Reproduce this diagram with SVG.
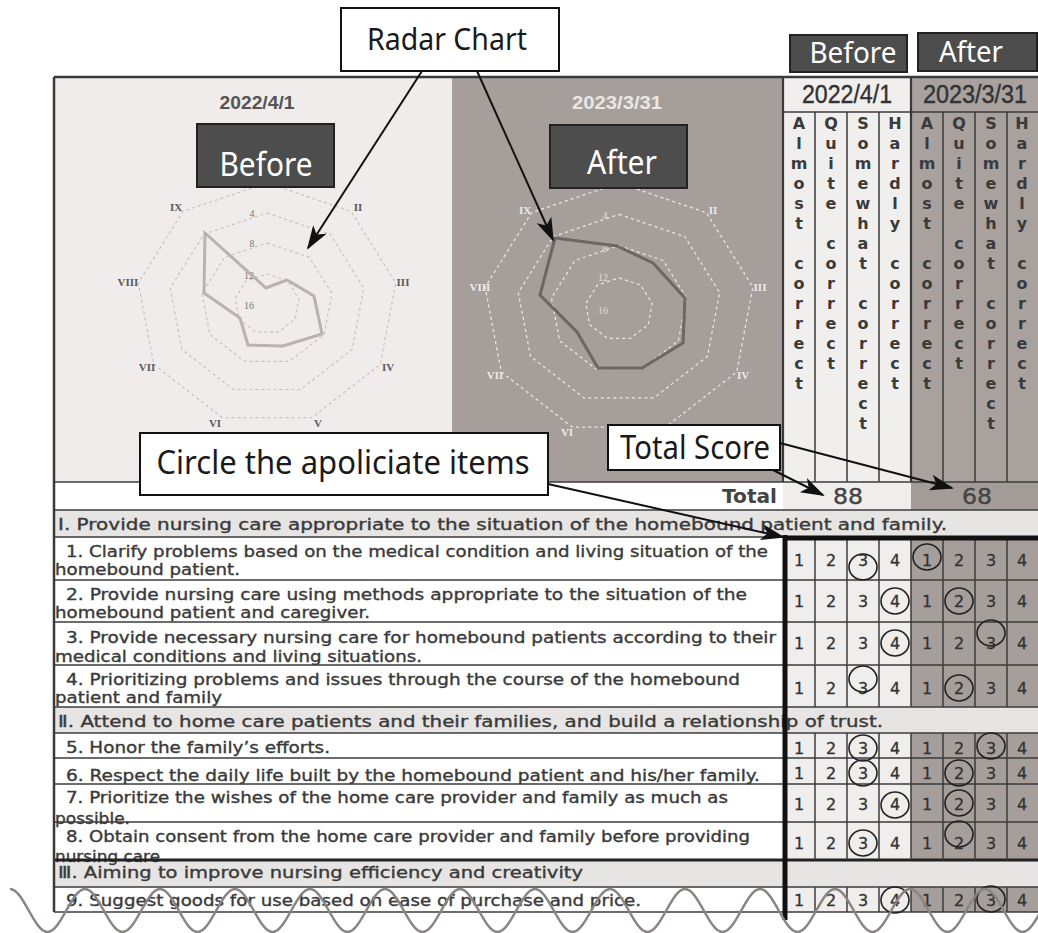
<svg xmlns="http://www.w3.org/2000/svg" width="1038" height="933" viewBox="0 0 1038 933">
<defs>
<style>
.call{font-family:"Noto Sans","Open Sans",sans-serif;fill:#1a1a1a}
.wlab{font-family:"Noto Sans","Open Sans",sans-serif;fill:#ffffff}
.box{fill:#ffffff;stroke:#111;stroke-width:2}
.dbox{fill:#4d4d4d;stroke:#222;stroke-width:2}
.tx{font-family:"DejaVu Sans","Noto Sans CJK JP",sans-serif;font-size:15px;fill:#3a3a3a;stroke:#3a3a3a;stroke-width:0.35}
.num{font-family:"DejaVu Sans",sans-serif;font-size:16px;fill:#333;text-anchor:middle;stroke:#333;stroke-width:0.3}
.vert{font-family:"DejaVu Sans",sans-serif;font-size:16px;font-weight:bold;fill:#3a3a3a;text-anchor:middle}
.rl{font-family:"Liberation Serif",serif;font-size:11px;font-weight:bold;text-anchor:middle}
.sl{font-family:"Liberation Serif",serif;font-size:10px;text-anchor:middle}
.ln{stroke:#3c3c3c;stroke-width:1.5;fill:none}
.circ{fill:none;stroke:#222;stroke-width:1.6}
.conn{stroke:#111;stroke-width:2;fill:none;marker-end:url(#ah)}
</style>
<marker id="ah" viewBox="-24 -9 26 18" refX="0" refY="0" markerWidth="26" markerHeight="18" markerUnits="userSpaceOnUse" orient="auto">
<path d="M2,0 L-22,-8 L-16,0 L-22,8 Z" fill="#111"/>
</marker>
<g id="rings" fill="none">
<polygon points="0,-121 84,-92.7 128.7,-21 113.2,60.5 44.7,113.7 -44.7,113.7 -113.2,60.5 -128.7,-21 -84,-92.7"/>
<polygon points="0,-91 63.2,-69.7 96.8,-15.8 85.1,45.5 33.6,85.5 -33.6,85.5 -85.1,45.5 -96.8,-15.8 -63.2,-69.7"/>
<polygon points="0,-61 42.4,-46.7 64.9,-10.6 57.1,30.5 22.5,57.3 -22.5,57.3 -57.1,30.5 -64.9,-10.6 -42.4,-46.7"/>
<polygon points="0,-30 20.8,-23 31.9,-5.2 28.1,15 11.1,28.2 -11.1,28.2 -28.1,15 -31.9,-5.2 -20.8,-23"/>
</g>
</defs>
<rect x="0" y="0" width="1038" height="933" fill="#ffffff"/>

<g id="radar-before">
<rect x="54" y="78" width="398" height="404" fill="#efeceb"/>
<use href="#rings" transform="translate(267,304)" stroke="#c6c1bf" stroke-width="1.2" stroke-dasharray="3 3"/>
<text x="257" y="109" font-family="Liberation Sans,sans-serif" font-weight="bold" font-size="18" fill="#555" text-anchor="middle" textLength="75" lengthAdjust="spacingAndGlyphs">2022/4/1</text>
<g class="rl" fill="#5a5a5a">
<text x="176" y="211">IX</text><text x="358" y="211">II</text><text x="403" y="286">III</text><text x="388" y="371">IV</text>
<text x="318" y="427">V</text><text x="215" y="427">VI</text><text x="147" y="371">VII</text><text x="128" y="286">VIII</text>
</g>
<g class="sl" fill="#777">
<text x="252" y="217">4</text><text x="252" y="247">8</text><text x="249" y="279">12</text><text x="249" y="309">16</text>
</g>
<polygon points="205,233 266,288 287,280 314,296 322,334 283,346 248,345 240,318 204,293" fill="none" stroke="#b8b2b0" stroke-width="3"/>
</g>

<g id="radar-after">
<rect x="452" y="78" width="331" height="404" fill="#a59e9b"/>
<use href="#rings" transform="translate(619,309) scale(1.04)" stroke="#ebe7e5" stroke-width="1.2" stroke-dasharray="3 3"/>
<text x="617" y="109" font-family="Liberation Sans,sans-serif" font-weight="bold" font-size="18" fill="#ebe7e5" text-anchor="middle" textLength="90" lengthAdjust="spacingAndGlyphs">2023/3/31</text>
<g class="rl" fill="#eeeae8">
<text x="525" y="214">IX</text><text x="713" y="214">II</text><text x="760" y="291">III</text><text x="743" y="379">IV</text>
<text x="567" y="436">VI</text><text x="495" y="379">VII</text><text x="480" y="291">VIII</text>
</g>
<g class="sl" fill="#e2dedc">
<text x="605" y="219">4</text><text x="605" y="252">8</text><text x="603" y="281">12</text><text x="603" y="314">16</text>
</g>
<polygon points="555,238 617,246 653,263 685,298 683,343 642,368 598,368 577,332 540,295" fill="none" stroke="#6d6664" stroke-width="3"/>
</g>

<g id="score-header">
<rect x="783" y="78" width="128" height="404" fill="#f1efee"/>
<rect x="911" y="78" width="127" height="404" fill="#a8a19e"/>
<text x="847" y="103" font-family="Liberation Sans,sans-serif" font-size="26" fill="#333" stroke="#333" stroke-width="0.4" text-anchor="middle" textLength="90" lengthAdjust="spacingAndGlyphs">2022/4/1</text>
<text x="975" y="103" font-family="Liberation Sans,sans-serif" font-size="26" fill="#333" stroke="#333" stroke-width="0.4" text-anchor="middle" textLength="104" lengthAdjust="spacingAndGlyphs">2023/3/31</text>
<text class="vert"><tspan x="799" y="129">A</tspan><tspan x="799" dy="20">l</tspan><tspan x="799" dy="20">m</tspan><tspan x="799" dy="20">o</tspan><tspan x="799" dy="20">s</tspan><tspan x="799" dy="20">t</tspan><tspan x="799" dy="40">c</tspan><tspan x="799" dy="20">o</tspan><tspan x="799" dy="20">r</tspan><tspan x="799" dy="20">r</tspan><tspan x="799" dy="20">e</tspan><tspan x="799" dy="20">c</tspan><tspan x="799" dy="20">t</tspan></text>
<text class="vert"><tspan x="831" y="129">Q</tspan><tspan x="831" dy="20">u</tspan><tspan x="831" dy="20">i</tspan><tspan x="831" dy="20">t</tspan><tspan x="831" dy="20">e</tspan><tspan x="831" dy="40">c</tspan><tspan x="831" dy="20">o</tspan><tspan x="831" dy="20">r</tspan><tspan x="831" dy="20">r</tspan><tspan x="831" dy="20">e</tspan><tspan x="831" dy="20">c</tspan><tspan x="831" dy="20">t</tspan></text>
<text class="vert"><tspan x="863" y="129">S</tspan><tspan x="863" dy="20">o</tspan><tspan x="863" dy="20">m</tspan><tspan x="863" dy="20">e</tspan><tspan x="863" dy="20">w</tspan><tspan x="863" dy="20">h</tspan><tspan x="863" dy="20">a</tspan><tspan x="863" dy="20">t</tspan><tspan x="863" dy="40">c</tspan><tspan x="863" dy="20">o</tspan><tspan x="863" dy="20">r</tspan><tspan x="863" dy="20">r</tspan><tspan x="863" dy="20">e</tspan><tspan x="863" dy="20">c</tspan><tspan x="863" dy="20">t</tspan></text>
<text class="vert"><tspan x="895" y="129">H</tspan><tspan x="895" dy="20">a</tspan><tspan x="895" dy="20">r</tspan><tspan x="895" dy="20">d</tspan><tspan x="895" dy="20">l</tspan><tspan x="895" dy="20">y</tspan><tspan x="895" dy="40">c</tspan><tspan x="895" dy="20">o</tspan><tspan x="895" dy="20">r</tspan><tspan x="895" dy="20">r</tspan><tspan x="895" dy="20">e</tspan><tspan x="895" dy="20">c</tspan><tspan x="895" dy="20">t</tspan></text>
<text class="vert"><tspan x="927" y="129">A</tspan><tspan x="927" dy="20">l</tspan><tspan x="927" dy="20">m</tspan><tspan x="927" dy="20">o</tspan><tspan x="927" dy="20">s</tspan><tspan x="927" dy="20">t</tspan><tspan x="927" dy="40">c</tspan><tspan x="927" dy="20">o</tspan><tspan x="927" dy="20">r</tspan><tspan x="927" dy="20">r</tspan><tspan x="927" dy="20">e</tspan><tspan x="927" dy="20">c</tspan><tspan x="927" dy="20">t</tspan></text>
<text class="vert"><tspan x="959" y="129">Q</tspan><tspan x="959" dy="20">u</tspan><tspan x="959" dy="20">i</tspan><tspan x="959" dy="20">t</tspan><tspan x="959" dy="20">e</tspan><tspan x="959" dy="40">c</tspan><tspan x="959" dy="20">o</tspan><tspan x="959" dy="20">r</tspan><tspan x="959" dy="20">r</tspan><tspan x="959" dy="20">e</tspan><tspan x="959" dy="20">c</tspan><tspan x="959" dy="20">t</tspan></text>
<text class="vert"><tspan x="991" y="129">S</tspan><tspan x="991" dy="20">o</tspan><tspan x="991" dy="20">m</tspan><tspan x="991" dy="20">e</tspan><tspan x="991" dy="20">w</tspan><tspan x="991" dy="20">h</tspan><tspan x="991" dy="20">a</tspan><tspan x="991" dy="20">t</tspan><tspan x="991" dy="40">c</tspan><tspan x="991" dy="20">o</tspan><tspan x="991" dy="20">r</tspan><tspan x="991" dy="20">r</tspan><tspan x="991" dy="20">e</tspan><tspan x="991" dy="20">c</tspan><tspan x="991" dy="20">t</tspan></text>
<text class="vert"><tspan x="1022" y="129">H</tspan><tspan x="1022" dy="20">a</tspan><tspan x="1022" dy="20">r</tspan><tspan x="1022" dy="20">d</tspan><tspan x="1022" dy="20">l</tspan><tspan x="1022" dy="20">y</tspan><tspan x="1022" dy="40">c</tspan><tspan x="1022" dy="20">o</tspan><tspan x="1022" dy="20">r</tspan><tspan x="1022" dy="20">r</tspan><tspan x="1022" dy="20">e</tspan><tspan x="1022" dy="20">c</tspan><tspan x="1022" dy="20">t</tspan></text>
<path class="ln" d="M783,112 H1038 M815,112 V482 M847,112 V482 M879,112 V482 M943,112 V482 M975,112 V482 M1007,112 V482"/>
<path d="M783,78 V510 M911,78 V510" stroke="#3a3a3a" stroke-width="2.2" fill="none"/>
</g>

<g id="total-row">
<rect x="54" y="482" width="729" height="28" fill="#ffffff"/>
<rect x="783" y="482" width="128" height="28" fill="#f0eeed"/>
<rect x="911" y="482" width="127" height="28" fill="#a39c99"/>
<text x="777" y="503" font-family="DejaVu Sans,sans-serif" font-weight="bold" font-size="19" fill="#444" text-anchor="end" textLength="55" lengthAdjust="spacingAndGlyphs">Total</text>
<text x="848" y="504" font-family="DejaVu Sans,sans-serif" font-size="22" fill="#444" stroke="#444" stroke-width="0.4" text-anchor="middle" textLength="30" lengthAdjust="spacingAndGlyphs">88</text>
<text x="977" y="504" font-family="DejaVu Sans,sans-serif" font-size="22" fill="#444" stroke="#444" stroke-width="0.4" text-anchor="middle" textLength="30" lengthAdjust="spacingAndGlyphs">68</text>
</g>

<g id="items-table">
<rect x="54" y="510" width="984" height="27" fill="#e7e5e4"/>
<rect x="54" y="707" width="984" height="26" fill="#e7e5e4"/>
<rect x="54" y="860" width="984" height="27" fill="#e7e5e4"/>
<g fill="#f0eeec">
<rect x="785" y="537" width="126" height="170"/><rect x="785" y="733" width="126" height="127"/><rect x="785" y="887" width="126" height="25"/>
</g>
<g fill="#a59e9b">
<rect x="911" y="537" width="127" height="170"/><rect x="911" y="733" width="127" height="127"/><rect x="911" y="887" width="127" height="25"/>
</g>
<text class="tx" x="58" y="530" textLength="889" lengthAdjust="spacingAndGlyphs">Ⅰ. Provide nursing care appropriate to the situation of the homebound patient and family.</text>
<text class="tx" x="66" y="557" textLength="702" lengthAdjust="spacingAndGlyphs">1. Clarify problems based on the medical condition and living situation of the</text>
<text class="tx" x="55" y="575" textLength="185" lengthAdjust="spacingAndGlyphs">homebound patient.</text>
<text class="tx" x="66" y="600" textLength="681" lengthAdjust="spacingAndGlyphs">2.  Provide nursing care using methods appropriate to the situation of the</text>
<text class="tx" x="55" y="618" textLength="315" lengthAdjust="spacingAndGlyphs">homebound patient and caregiver.</text>
<text class="tx" x="66" y="643" textLength="710" lengthAdjust="spacingAndGlyphs">3. Provide necessary nursing care for homebound patients according to their</text>
<text class="tx" x="55" y="662" textLength="367" lengthAdjust="spacingAndGlyphs">medical conditions and living situations.</text>
<text class="tx" x="66" y="685" textLength="674" lengthAdjust="spacingAndGlyphs">4. Prioritizing problems and issues through the course of the homebound</text>
<text class="tx" x="55" y="703" textLength="167" lengthAdjust="spacingAndGlyphs">patient and family</text>
<text class="tx" x="58" y="727" textLength="825" lengthAdjust="spacingAndGlyphs">Ⅱ. Attend to home care patients and their families, and build a relationship of trust.</text>
<text class="tx" x="66" y="753" textLength="264" lengthAdjust="spacingAndGlyphs">5. Honor the family’s efforts.</text>
<text class="tx" x="66" y="781" textLength="694" lengthAdjust="spacingAndGlyphs">6. Respect the daily life built by the homebound patient and his/her family.</text>
<text class="tx" x="66" y="803" textLength="662" lengthAdjust="spacingAndGlyphs">7.  Prioritize the wishes of the home care provider and family as much as</text>
<text class="tx" x="55" y="824" textLength="75" lengthAdjust="spacingAndGlyphs">possible.</text>
<text class="tx" x="66" y="842" textLength="684" lengthAdjust="spacingAndGlyphs">8. Obtain consent from the home care provider and family before providing</text>
<text class="tx" x="55" y="862" textLength="105" lengthAdjust="spacingAndGlyphs">nursing care</text>
<text class="tx" x="58" y="878" textLength="525" lengthAdjust="spacingAndGlyphs">Ⅲ. Aiming to improve nursing efficiency and creativity</text>
<text class="tx" x="66" y="906" textLength="575" lengthAdjust="spacingAndGlyphs">9. Suggest goods for use based on ease of purchase and price.</text>
<g class="num">
<text x="799 831 863 895 927 959 991 1022" y="566">12341234</text>
<text x="799 831 863 895 927 959 991 1022" y="607">12341234</text>
<text x="799 831 863 895 927 959 991 1022" y="649">12341234</text>
<text x="799 831 863 895 927 959 991 1022" y="694">12341234</text>
<text x="799 831 863 895 927 959 991 1022" y="754">12341234</text>
<text x="799 831 863 895 927 959 991 1022" y="779">12341234</text>
<text x="799 831 863 895 927 959 991 1022" y="810">12341234</text>
<text x="799 831 863 895 927 959 991 1022" y="849">12341234</text>
<text x="799 831 863 895 927 959 991 1022" y="906">12341234</text>
</g>
<path class="ln" d="M54,482 H1038 M54,510 H1038 M54,537 H1038 M54,580 H1038 M54,622 H1038 M54,665 H1038 M54,707 H1038 M54,733 H1038 M54,758 H1038 M54,784 H1038 M54,822 H1038 M54,887 H1038 M54,912 H1038"/>
<path d="M54,860 H1038" stroke="#222" stroke-width="3" fill="none"/>
<path class="ln" d="M815,537 V707 M847,537 V707 M879,537 V707 M911,537 V707 M943,537 V707 M975,537 V707 M1007,537 V707 M815,733 V860 M847,733 V860 M879,733 V860 M911,733 V860 M943,733 V860 M975,733 V860 M1007,733 V860 M815,887 V912 M847,887 V912 M879,887 V912 M911,887 V912 M943,887 V912 M975,887 V912 M1007,887 V912"/>
<path d="M54,77 H1038 M54,77 V912" stroke="#3a3a3a" stroke-width="2.5" fill="none"/>
<path d="M785,535 V920 M783,538 H1038" stroke="#111" stroke-width="5" fill="none"/>
<g class="circ">
<ellipse cx="863" cy="567" rx="14" ry="13"/><ellipse cx="927" cy="557" rx="14" ry="13"/>
<ellipse cx="895" cy="601" rx="14" ry="13"/><ellipse cx="959" cy="601" rx="14" ry="13"/>
<ellipse cx="895" cy="643" rx="14" ry="13"/><ellipse cx="991" cy="633" rx="14" ry="13"/>
<ellipse cx="863" cy="679" rx="14" ry="13"/><ellipse cx="959" cy="688" rx="14" ry="13"/>
<ellipse cx="863" cy="748" rx="14" ry="13"/><ellipse cx="991" cy="746" rx="14" ry="13"/>
<ellipse cx="863" cy="773" rx="14" ry="13"/><ellipse cx="959" cy="773" rx="14" ry="13"/>
<ellipse cx="895" cy="805" rx="14" ry="13"/><ellipse cx="959" cy="803" rx="14" ry="13"/>
<ellipse cx="863" cy="843" rx="14" ry="13"/><ellipse cx="959" cy="834" rx="14" ry="13"/>
<ellipse cx="895" cy="900" rx="14" ry="13"/><ellipse cx="991" cy="899" rx="14" ry="13"/>
</g>
</g>

<g id="torn-edge">
<path d="M10,889 C23.5,889 34,932 47.5,932 S71.5,889 85,889 S109,932 122.5,932 S146.5,889 160,889 S184,932 197.5,932 S221.5,889 235,889 S259,932 272.5,932 S296.5,889 310,889 S334,932 347.5,932 S371.5,889 385,889 S409,932 422.5,932 S446.5,889 460,889 S484,932 497.5,932 S521.5,889 535,889 S559,932 572.5,932 S596.5,889 610,889 S634,932 647.5,932 S671.5,889 685,889 S709,932 722.5,932 S746.5,889 760,889 S784,932 797.5,932 S821.5,889 835,889 S859,932 872.5,932 S896.5,889 910,889 S934,932 947.5,932 S971.5,889 985,889 S1009,932 1022.5,932 S1046.5,889 1060,889" fill="none" stroke="#8a8482" stroke-width="2.5"/>
</g>

<g id="callout-radar-chart">
<rect class="box" x="341" y="8" width="218" height="63"/>
<text class="call" x="447" y="50" font-size="31" text-anchor="middle" textLength="160" lengthAdjust="spacingAndGlyphs">Radar Chart</text>
</g>
<g id="tag-before-chart">
<rect class="dbox" x="197" y="124" width="137" height="63"/>
<text class="wlab" x="266" y="176" font-size="33" text-anchor="middle" textLength="93" lengthAdjust="spacingAndGlyphs">Before</text>
</g>
<g id="tag-after-chart">
<rect class="dbox" x="550" y="125" width="137" height="63"/>
<text class="wlab" x="622" y="174" font-size="33" text-anchor="middle" textLength="70" lengthAdjust="spacingAndGlyphs">After</text>
</g>
<g id="tag-before-top">
<rect class="dbox" x="790" y="35" width="117" height="37"/>
<text class="wlab" x="853" y="63" font-size="29" text-anchor="middle" textLength="87" lengthAdjust="spacingAndGlyphs">Before</text>
</g>
<g id="tag-after-top">
<rect class="dbox" x="918" y="33" width="119" height="38"/>
<text class="wlab" x="971" y="62" font-size="29" text-anchor="middle" textLength="64" lengthAdjust="spacingAndGlyphs">After</text>
</g>
<g id="callout-circle-items">
<rect class="box" x="140" y="433" width="408" height="62"/>
<text class="call" x="343" y="474" font-size="32" text-anchor="middle" textLength="373" lengthAdjust="spacingAndGlyphs">Circle the apoliciate items</text>
</g>
<g id="callout-total-score">
<rect class="box" x="608" y="425" width="172" height="45"/>
<text class="call" x="695" y="459" font-size="32" text-anchor="middle" textLength="150" lengthAdjust="spacingAndGlyphs">Total Score</text>
</g>

<g id="connectors">
<line class="conn" x1="422" y1="71" x2="308" y2="248"/>
<line class="conn" x1="477" y1="71" x2="553" y2="240"/>
<line class="conn" x1="548" y1="484" x2="783" y2="537"/>
<line class="conn" x1="773" y1="470" x2="823" y2="495"/>
<line class="conn" x1="780" y1="443" x2="952" y2="488"/>
</g>
</svg>
